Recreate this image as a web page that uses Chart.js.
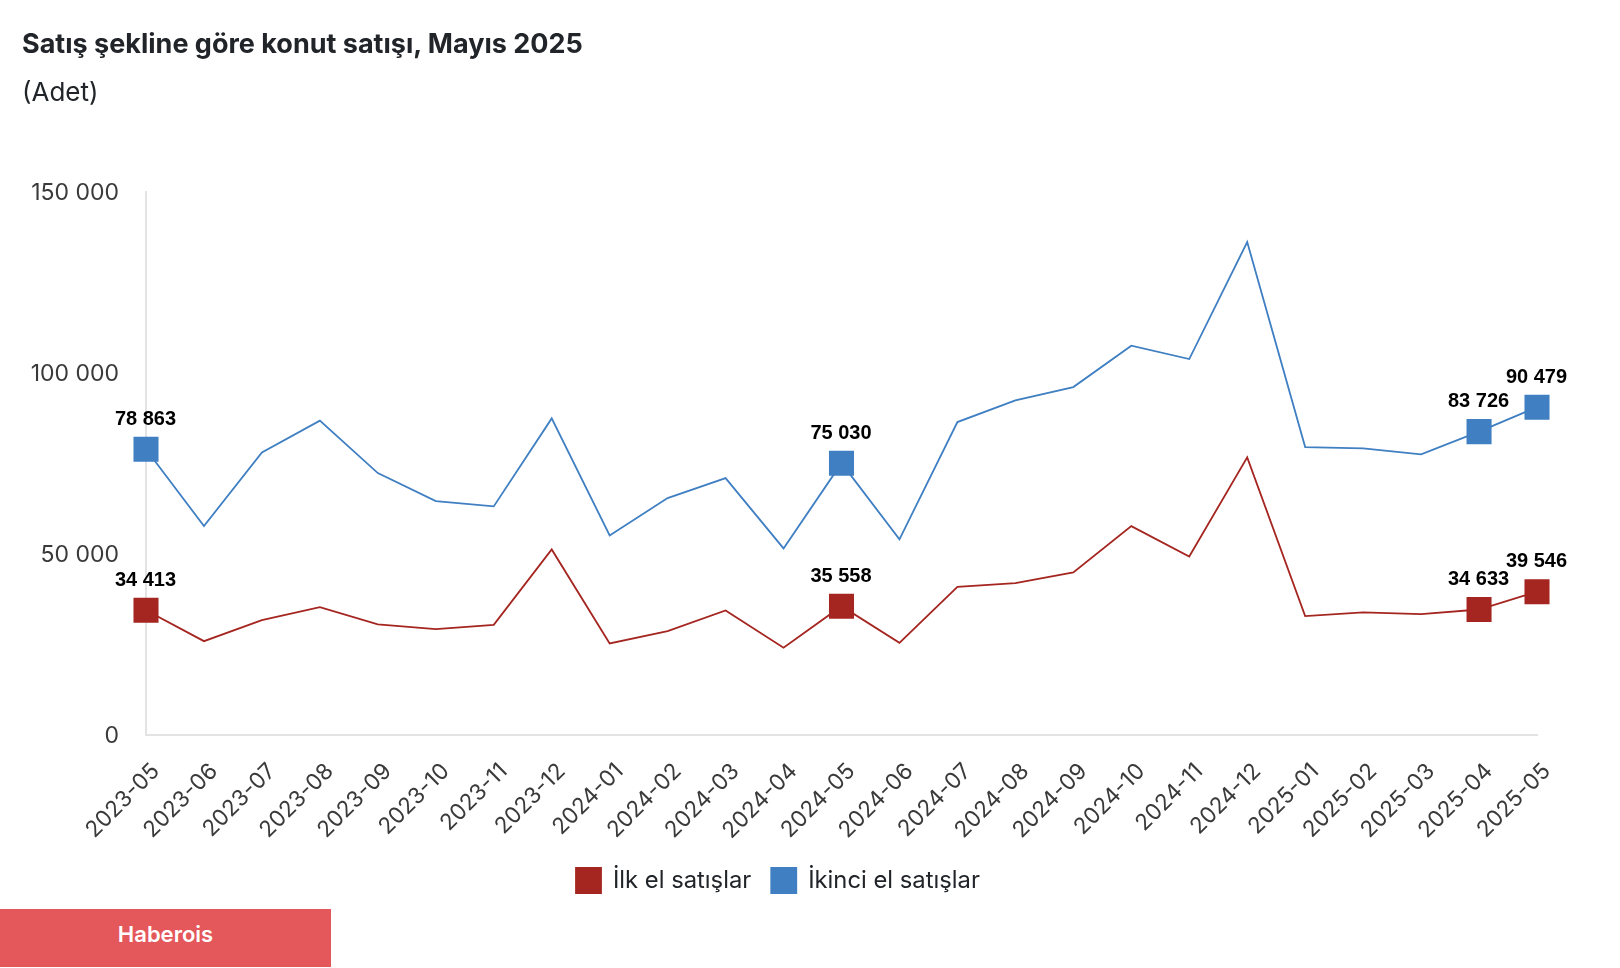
<!DOCTYPE html>
<html lang="tr">
<head>
<meta charset="utf-8">
<title>Satış şekline göre konut satışı</title>
<script src="https://cdn.jsdelivr.net/npm/chart.js@4"></script>
<style>
    html, body { margin: 0; padding: 0; background: #fff; }
    #page { position: relative; width: 1620px; height: 968px; overflow: hidden; font-family: Inter, sans-serif; }
    #chart { position: absolute; left: 0; top: 0; }
    #title { position: absolute; left: 22px; top: 27px; font-size: 27px; line-height: 34px; font-weight: 700; color: #212529; white-space: nowrap; }
    #subtitle { position: absolute; left: 22px; top: 75px; font-size: 26px; line-height: 34px; color: #212529; white-space: nowrap; }
    #source { position: absolute; left: 0; top: 909px; width: 331px; height: 58px; background: #E4575B; color: #fff; font-size: 22px; font-weight: 600; line-height: 50px; text-align: center; }
</style>
</head>
<body>
<div id="page">
    <canvas id="chart" width="1620" height="968"></canvas>
    <div id="title">Satış şekline göre konut satışı, Mayıs 2025</div>
    <div id="subtitle">(Adet)</div>
    <div id="source">Haberois</div>
</div>
<script>
// Aylar
const months = [
    '2023-05', '2023-06', '2023-07', '2023-08', '2023-09', '2023-10', '2023-11', '2023-12',
    '2024-01', '2024-02', '2024-03', '2024-04', '2024-05', '2024-06', '2024-07', '2024-08',
    '2024-09', '2024-10', '2024-11', '2024-12', '2025-01', '2025-02', '2025-03', '2025-04', '2025-05'
];

// İlk el satışlar
const firstHand = [
    34413, 25900, 31700, 35290, 30510, 29210, 30420, 51210,
    25260, 28660, 34370, 24070, 35558, 25450, 40910, 41910,
    44860, 57650, 49280, 76610, 32800, 33820, 33350, 34633, 39546
];

// İkinci el satışlar
const secondHand = [
    78863, 57650, 78000, 86750, 72280, 64560, 63090, 87380,
    55080, 65380, 70900, 51490, 75030, 53980, 86370, 92350,
    96030, 107450, 103760, 136060, 79470, 79100, 77440, 83726, 90479
];

// Kare işaretli ve etiketli aylar
const markedMonths = ['2023-05', '2024-05', '2025-04', '2025-05'];

const yTicks = [0, 50000, 100000, 150000];

const BLUE = '#3F7FC2';
const RED = '#A52620';
const AXIS = '#E3E3E3';
const MARKER_RADIUS = 17.7;

const spaced = v => String(v).replace(/\B(?=(\d{3})+$)/g, ' ');
const markerSizes = months.map(m => markedMonths.includes(m) ? MARKER_RADIUS : 0);

// seçili noktaların üstüne değer yazar
const valueLabels = {
    id: 'valueLabels',
    afterDatasetsDraw(chart) {
        const ctx = chart.ctx;
        ctx.save();
        ctx.font = 'bold 20px "Liberation Sans"';
        ctx.fillStyle = '#000';
        ctx.textAlign = 'center';
        ctx.textBaseline = 'middle';
        chart.data.datasets.forEach((ds, d) => {
            chart.getDatasetMeta(d).data.forEach((pt, i) => {
                if (markedMonths.includes(months[i])) {
                    ctx.fillText(spaced(ds.data[i]), pt.x - 0.5, pt.y - 30);
                }
            });
        });
        ctx.restore();
    }
};

// lejantı grafiğin ortasından sola al
const legendPlace = {
    id: 'legendPlace',
    afterLayout(chart) {
        chart.legend.left = 576 - chart.legend.options.labels.padding;
    }
};

new Chart(document.getElementById('chart'), {
    type: 'line',
    data: {
        labels: months,
        datasets: [
            {
                label: 'İlk el satışlar',
                data: firstHand,
                borderColor: RED,
                backgroundColor: RED,
                borderWidth: 1.8,
                tension: 0,
                pointStyle: 'rect',
                pointRadius: markerSizes,
                pointBackgroundColor: RED,
                pointBorderWidth: 0
            },
            {
                label: 'İkinci el satışlar',
                data: secondHand,
                borderColor: BLUE,
                backgroundColor: BLUE,
                borderWidth: 1.8,
                tension: 0,
                pointStyle: 'rect',
                pointRadius: markerSizes,
                pointBackgroundColor: BLUE,
                pointBorderWidth: 0
            }
        ]
    },
    options: {
        responsive: false,
        animation: false,
        devicePixelRatio: 1,
        layout: { padding: { top: 191.5, right: 83, bottom: 65 } },
        plugins: {
            title: { display: false },
            tooltip: { enabled: false },
            legend: {
                position: 'bottom',
                align: 'start',
                labels: {
                    boxWidth: 25,
                    boxHeight: 25,
                    padding: 20,
                    color: '#212529',
                    font: { family: 'Inter', size: 23.8 }
                }
            }
        },
        scales: {
            x: {
                offset: false,
                grid: { display: false, drawTicks: false },
                border: { color: AXIS, width: 2 },
                ticks: {
                    autoSkip: false,
                    minRotation: 45,
                    maxRotation: 45,
                    padding: 23,
                    labelOffset: 10,
                    color: '#3A3A3A',
                    font: { family: 'Inter', size: 22.5 }
                },
                afterFit: s => { s.height = 113; }
            },
            y: {
                min: 0,
                max: 150000,
                afterBuildTicks: s => { s.ticks = yTicks.map(v => ({ value: v })); },
                grid: { display: false, drawTicks: false },
                border: { color: AXIS, width: 2 },
                ticks: {
                    padding: 27,
                    labelOffset: 1.5,
                    color: '#3A3A3A',
                    font: { family: 'Inter', size: 23 },
                    callback: v => spaced(v)
                },
                afterFit: s => { s.width = 146; }
            }
        }
    },
    plugins: [valueLabels, legendPlace]
});
</script>
</body>
</html>
